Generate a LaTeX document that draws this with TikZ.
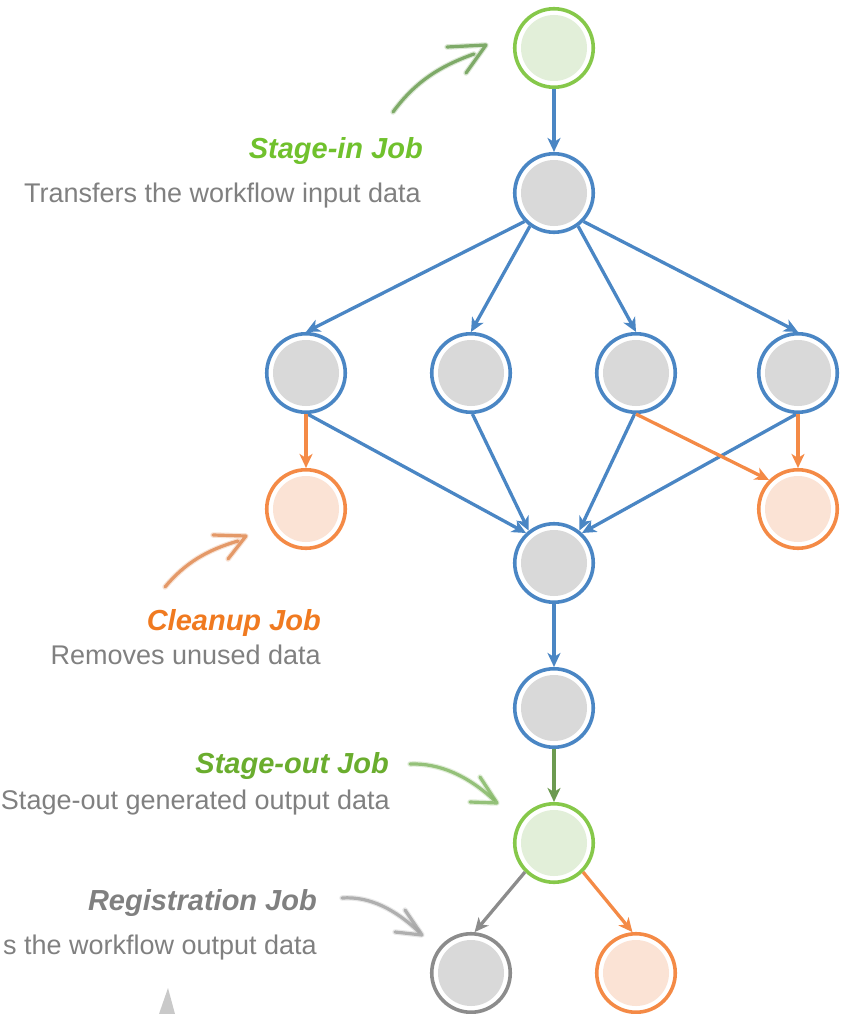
\documentclass[tikz,border=0pt]{standalone}
\usepackage{fontspec}
\setmainfont{Liberation Sans}
\usetikzlibrary{arrows.meta}
\definecolor{eblue}{RGB}{74,134,196}
\definecolor{jgray}{RGB}{217,217,217}
\definecolor{ringgreen}{RGB}{134,200,74}
\definecolor{fillgreen}{RGB}{226,239,217}
\definecolor{ringorange}{RGB}{244,138,70}
\definecolor{fillorange}{RGB}{251,227,213}
\definecolor{ringgray}{RGB}{140,140,140}
\definecolor{dgreen}{RGB}{108,154,80}
\definecolor{txtgray}{RGB}{128,128,128}
\definecolor{tgreen}{RGB}{112,193,45}
\definecolor{tgreen2}{RGB}{106,173,46}
\definecolor{torange}{RGB}{240,122,32}
\definecolor{sgreen}{RGB}{110,160,85}
\definecolor{sorange}{RGB}{225,140,85}
\definecolor{sgreen2}{RGB}{135,185,105}
\definecolor{sgray}{RGB}{165,165,165}
\begin{document}
\begin{tikzpicture}[x=1pt,y=-1pt,
  job/.style n args={2}{circle, draw=#1, line width=3.6pt, minimum size=78.5pt, inner sep=0pt, fill=white,
    path picture={\fill[#2] (path picture bounding box.center) circle (33pt);}},
  bluejob/.style={job={eblue}{jgray}},
  greenjob/.style={job={ringgreen}{fillgreen}},
  orangejob/.style={job={ringorange}{fillorange}},
  grayjob/.style={job={ringgray}{jgray}},
  edge/.style={line width=3.3pt, -{Stealth[length=14pt,width=13pt,inset=4pt]}},
  title/.style={anchor=base east, inner sep=0pt, font=\fontsize{29}{32}\selectfont\bfseries\itshape},
  desc/.style={anchor=base east, inner sep=0pt, text=txtgray, font=\fontsize{27}{30}\selectfont},
  sketch/.style={line width=3.2pt, line cap=round, line join=round, draw opacity=0.85},
  sketchblur/.style={line width=5.5pt, line cap=round, line join=round, draw opacity=0.25}
]
\useasboundingbox (0,0) rectangle (851,1014);

% nodes
\node[greenjob] (top) at (554,48) {};
\node[bluejob] (n2) at (554,193) {};
\node[bluejob] (r1) at (306,373) {};
\node[bluejob] (r2) at (471,373) {};
\node[bluejob] (r3) at (636,373) {};
\node[bluejob] (r4) at (798,373) {};
\node[orangejob] (c1) at (306,509) {};
\node[orangejob] (c2) at (798,509) {};
\node[bluejob] (m) at (554,563) {};
\node[bluejob] (n7) at (554,708) {};
\node[greenjob] (so) at (554,843) {};
\node[grayjob] (g) at (471,973) {};
\node[orangejob] (o) at (636,973) {};

% edges
\draw[edge, eblue] (top) -- (n2);
\draw[edge, eblue] (n2.-136) -- (r1.90);
\draw[edge, eblue] (n2.-126) -- (r2.90);
\draw[edge, eblue] (n2.-54) -- (r3.90);
\draw[edge, eblue] (n2.-44) -- (r4.90);
\draw[edge, eblue] (r1.-88) -- (m.133);
\draw[edge, eblue] (r2.-88) -- (m.128);
\draw[edge, eblue] (r3.-92) -- (m.52);
\draw[edge, eblue] (r4.-92) -- (m.47);
\draw[edge, ringorange] (r1) -- (c1);
\draw[edge, ringorange] (r4) -- (c2);
\draw[edge, ringorange] (r3.-90) -- (c2.135);
\draw[edge, eblue] (m) -- (n7);
\draw[edge, dgreen] (n7) -- (so);
\draw[edge, ringgray] (so.-135) -- (g.85);
\draw[edge, ringorange] (so.-45) -- (o.95);

% labels
\node[title, text=tgreen] (t1) at (423,158) {Stage-in Job};
\node[desc] (d1) at (421,202) {Transfers the workflow input data};
\node[title, text=torange] (t2) at (321,630) {Cleanup Job};
\node[desc] (d2) at (321,664) {Removes unused data};
\node[title, text=tgreen2] (t3) at (389,773) {Stage-out Job};
\node[desc] (d3) at (390,809) {Stage-out generated output data};
\node[title, text=txtgray] (t4) at (317,910) {Registration Job};
\node[desc] (d4) at (317,954) {s the workflow output data};

% sketchy arrows
\foreach \s in {sketchblur, sketch} {
  \draw[\s, sgreen] (393,112) .. controls (415,82) and (440,66) .. (474,54);
  \draw[\s, sgreen] (447,47) -- (486,45) -- (466,73);
  \draw[\s, sorange] (165,587) .. controls (185,563) and (207,550) .. (238,541);
  \draw[\s, sorange] (213,535) -- (246,536) -- (228,559);
  \draw[\s, sgreen2] (410,764) .. controls (440,763) and (468,776) .. (494,800);
  \draw[\s, sgreen2] (480,777) -- (497,803) -- (470,802);
  \draw[\s, sgray] (342,898) .. controls (370,896) and (396,910) .. (419,932);
  \draw[\s, sgray] (405,910) -- (422,935) -- (395,932);
}
\fill[sgray, opacity=0.6] (168,988) -- (175,1014) -- (159,1014) -- cycle;
\end{tikzpicture}
\end{document}
